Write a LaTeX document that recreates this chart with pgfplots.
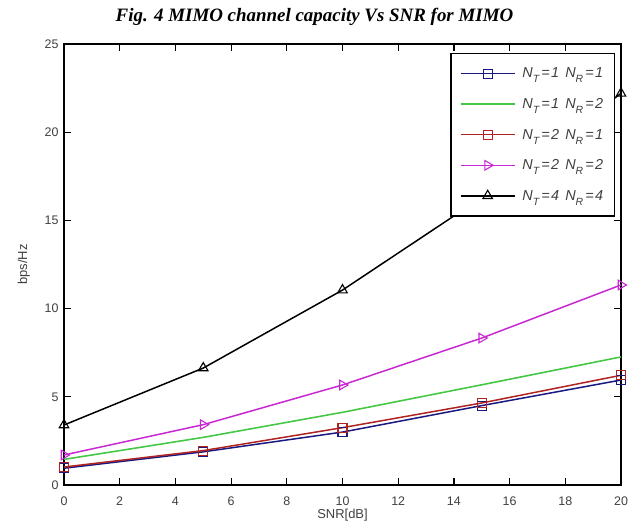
\documentclass[border=0pt]{standalone}
\usepackage{fontspec}
\setmainfont{Liberation Sans}
\newfontfamily\titlefont{Liberation Serif}
\usepackage{pgfplots}
\pgfplotsset{compat=1.18}
\definecolor{mblue}{RGB}{25,25,130}
\definecolor{mgreen}{RGB}{70,200,70}
\definecolor{mred}{RGB}{175,35,35}
\definecolor{mmag}{RGB}{200,40,210}
\newcommand{\legtxt}[2]{\kern5bp N\raisebox{-5bp}{\fontsize{10.5}{11}\selectfont T}\kern2bp=\kern1.5bp#1\kern6bp N\raisebox{-5bp}{\fontsize{10.5}{11}\selectfont R}\kern2bp=\kern1.5bp#2}
\begin{document}
\begin{tikzpicture}
\begin{axis}[
  name=ax,
  scale only axis,
  width=557bp, height=441bp,
  xmin=0, xmax=20, ymin=0, ymax=25,
  xtick={0,2,...,20}, ytick={0,5,...,25},
  tick align=inside,
  tick pos=both,
  major tick length=7bp,
  axis line style={line width=1.4pt},
  every tick/.style={line width=1.2pt,black},
  /pgf/number format/assume math mode=true,
  tick label style={font=\fontsize{12.5}{14}\selectfont, text=black!75},
  xticklabel style={yshift=-8bp},
  yticklabel style={xshift=-2bp},
  xlabel={SNR[dB]},
  ylabel={bps/Hz},
  xlabel style={font=\fontsize{13}{15}\selectfont, text=black!75, yshift=3bp},
  ylabel style={font=\fontsize{13}{15}\selectfont, text=black!75, yshift=8bp},
  title={\titlefont\bfseries\itshape Fig. 4 MIMO channel capacity Vs SNR for MIMO},
  title style={font=\fontsize{19}{22}\selectfont, yshift=9bp, xshift=-28bp},
  legend cell align=left,
  legend style={at={(0.989,0.98)}, anchor=north east, draw=black, fill=white, line width=1.3pt,
    font=\fontsize{14.5}{16}\selectfont\itshape, text=black!75,
    row sep=15bp, inner xsep=9bp, inner ysep=12.5bp},
  legend image code/.code={\draw[mark repeat=2,mark phase=2] plot coordinates {(0bp,0bp)(27bp,0bp)(54bp,0bp)};},
]
\addplot[color=mblue, line width=1.5pt, mark=square, mark size=4.5bp, mark options={line width=1.1pt}]
  coordinates {(0,0.95) (5,1.88) (10,3.0) (15,4.5) (20,5.95)};
\addlegendentry{\legtxt{1}{1}}
\addplot[color=mgreen, line width=1.6pt, no marks]
  coordinates {(0,1.45) (5,2.7) (10,4.12) (15,5.68) (20,7.26)};
\addlegendentry{\legtxt{1}{2}}
\addplot[color=mred, line width=1.5pt, mark=square, mark size=4.5bp, mark options={line width=1.1pt}]
  coordinates {(0,1.02) (5,1.95) (10,3.25) (15,4.65) (20,6.22)};
\addlegendentry{\legtxt{2}{1}}
\addplot[color=mmag, line width=1.5pt, mark=triangle, mark size=5.5bp, mark options={rotate=-90, line width=1.1pt}]
  coordinates {(0,1.7) (5,3.42) (10,5.67) (15,8.33) (20,11.34)};
\addlegendentry{\legtxt{2}{2}}
\addplot[color=black, line width=1.5pt, mark=triangle, mark size=5.5bp, mark options={line width=1.1pt}]
  coordinates {(0,3.4) (5,6.63) (10,11.05) (15,16.3) (20,22.2)};
\addlegendentry{\legtxt{4}{4}}
\end{axis}
\pgfresetboundingbox
\path[use as bounding box] ([shift={(-64bp,-44bp)}]ax.south west) rectangle ([shift={(7bp,44bp)}]ax.north east);
\end{tikzpicture}
\end{document}
